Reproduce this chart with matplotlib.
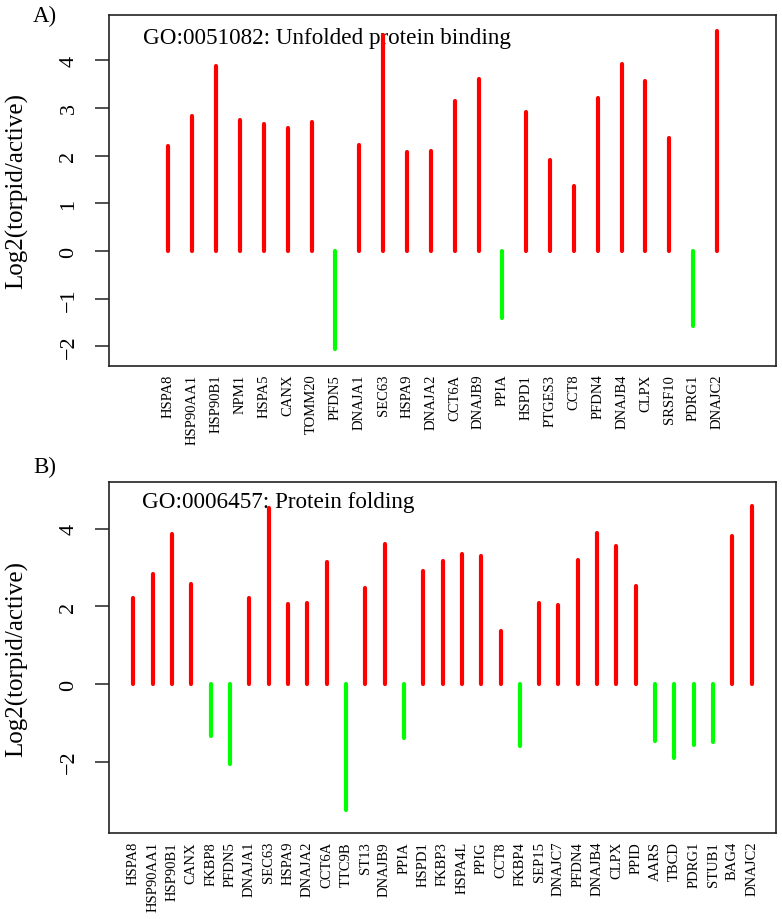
import matplotlib
matplotlib.use('Agg')
import matplotlib.pyplot as plt

# ---------------- data ----------------
genes_a = ["HSPA8", "HSP90AA1", "HSP90B1", "NPM1", "HSPA5", "CANX", "TOMM20",
           "PFDN5", "DNAJA1", "SEC63", "HSPA9", "DNAJA2", "CCT6A", "DNAJB9",
           "PPIA", "HSPD1", "PTGES3", "CCT8", "PFDN4", "DNAJB4", "CLPX",
           "SRSF10", "PDRG1", "DNAJC2"]
values_a = [2.19, 2.83, 3.87, 2.74, 2.67, 2.58, 2.71,
            -2.05, 2.21, 4.52, 2.07, 2.10, 3.14, 3.61,
            -1.40, 2.91, 1.91, 1.36, 3.20, 3.92, 3.57,
            2.37, -1.57, 4.60]

genes_b = ["HSPA8", "HSP90AA1", "HSP90B1", "CANX", "FKBP8", "PFDN5", "DNAJA1",
           "SEC63", "HSPA9", "DNAJA2", "CCT6A", "TTC9B", "ST13", "DNAJB9",
           "PPIA", "HSPD1", "FKBP3", "HSPA4L", "PPIG", "CCT8", "FKBP4",
           "SEP15", "DNAJC7", "PFDN4", "DNAJB4", "CLPX", "PPID", "AARS",
           "TBCD", "PDRG1", "STUB1", "BAG4", "DNAJC2"]
values_b = [2.21, 2.84, 3.87, 2.59, -1.35, -2.06, 2.22,
            4.53, 2.06, 2.10, 3.14, -3.24, 2.48, 3.61,
            -1.40, 2.91, 3.17, 3.36, 3.31, 1.37, -1.59,
            2.09, 2.04, 3.20, 3.90, 3.56, 2.54, -1.48,
            -1.90, -1.57, -1.50, 3.81, 4.59]

yticks_a = [-2, -1, 0, 1, 2, 3, 4]
yticks_b = [-2, 0, 2, 4]
title_a = "GO:0051082: Unfolded protein binding"
title_b = "GO:0006457: Protein folding"
panel_a = "A)"
panel_b = "B)"
ylabel = "Log2(torpid/active)"

# ---------------- style ----------------
plt.rcParams['font.family'] = ['Liberation Serif', 'DejaVu Serif']

W, H = 782, 920
fig = plt.figure(figsize=(W / 100, H / 100), dpi=100)


def add_axes(left, top, right, bottom):
    return fig.add_axes([left / W, 1 - bottom / H, (right - left) / W, (bottom - top) / H])


def draw(ax, genes, values, yticks, title, xlim, ylim, tx, ty):
    x = list(range(len(genes)))
    colors = ['#FF0000' if v > 0 else '#00FF00' for v in values]
    lc = ax.vlines(x, 0, values, colors=colors, linewidth=3.0, zorder=3)
    lc.set_capstyle('round')
    ax.set_xlim(*xlim)
    ax.set_ylim(*ylim)
    ax.set_yticks(yticks)
    ax.set_yticklabels([str(t).replace('-', '\u2212') for t in yticks])
    ax.set_xticks(x)
    ax.set_xticklabels(genes, rotation=90)
    ax.tick_params(axis='x', length=0, pad=5.5, labelsize=10.5)
    ax.tick_params(axis='y', length=10, width=1.1, pad=12, labelsize=16,
                   labelrotation=90, color='#222222')
    for lab in ax.get_yticklabels():
        lab.set_va('center')
    for s in ax.spines.values():
        s.set_linewidth(1.2)
        s.set_color('#222222')
    ax.text(tx, ty, title, transform=ax.transAxes, fontsize=16.7,
            ha='left', va='baseline', zorder=1)


axA = add_axes(109, 15.7, 775.5, 367)
axB = add_axes(109, 483, 775.5, 834.3)

draw(axA, genes_a, values_a, yticks_a, title_a, (-2.49, 25.45), (-2.41, 4.95), 0.051, 0.9186)
draw(axB, genes_b, values_b, yticks_b, title_b, (-1.26, 33.23), (-3.85, 5.21), 0.049, 0.9297)

fig.text(33 / W, 1 - 22 / H, panel_a, fontsize=16.5, ha='left', va='baseline')
fig.text(33 / W, 1 - 473 / H, panel_b, fontsize=16.5, ha='left', va='baseline')

for ax in (axA, axB):
    pos = ax.get_position()
    fig.text(16.5 / W, pos.y0 + pos.height / 2, ylabel, rotation=90,
             fontsize=18, ha='center', va='center')

fig.savefig('out.png', dpi=100)
